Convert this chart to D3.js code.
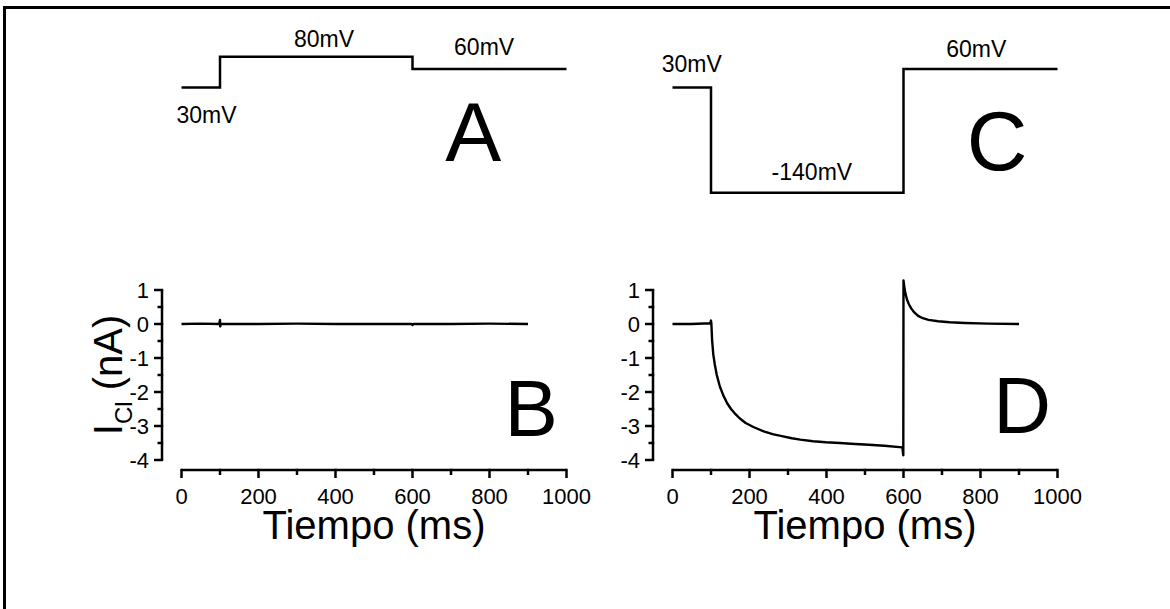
<!DOCTYPE html>
<html>
<head>
<meta charset="utf-8">
<script src="https://cdn.jsdelivr.net/npm/d3@7"></script>
<style>
  body { margin: 0; background: #fff; }
  svg { display: block; font-family: "Liberation Sans", Arial, sans-serif; }
</style>
</head>
<body>
<div id="chart"></div>
<script>
// voltage protocols (ms, mV)
var protoA = [[0, 30], [100, 30], [100, 80], [600, 80], [600, 60], [1000, 60]];
var protoC = [[0, 30], [100, 30], [100, -140], [600, -140], [600, 60], [1000, 60]];
// label text, centre (ms), baseline (mV)
var protoLabelsA = [["30mV", 65, -27], ["80mV", 370, 96], ["60mV", 786, 83]];
var protoLabelsC = [["30mV", 50, 56], ["-140mV", 362, -119], ["60mV", 789, 79]];

// chloride current traces (ms, nA)
var traceB = [[0, 0], [50, 0.01], [98, 0], [100, 0.12], [100.5, -0.07], [102, 0],
  [200, 0], [300, 0.01], [400, 0], [500, 0], [598, 0], [600, -0.03], [602, 0],
  [700, 0], [800, 0.01], [900, 0]];
var traceD = [[0, 0], [50, 0], [98, 0.02], [100, 0.1], [101, 0], [103, -0.5],
  [106, -0.9], [110, -1.2], [115, -1.5], [123, -1.84], [132, -2.1], [142, -2.33],
  [152, -2.5], [161, -2.62], [175, -2.78], [190, -2.91], [210, -3.03], [237, -3.16],
  [260, -3.24], [284, -3.3], [310, -3.36], [332, -3.4], [365, -3.45], [398, -3.48],
  [435, -3.5], [474, -3.53], [510, -3.55], [550, -3.58], [597, -3.63], [599.5, -3.86],
  [600, 1.28], [602, 1.1], [605, 0.9], [609, 0.72], [614, 0.58], [620, 0.46],
  [628, 0.34], [638, 0.24], [650, 0.17], [665, 0.12], [690, 0.08], [720, 0.05],
  [760, 0.03], [820, 0.01], [900, 0]];

var xTicks = [0, 200, 400, 600, 800, 1000];
var xMinor = [100, 300, 500, 700, 900];
var yTicks = [1, 0, -1, -2, -3, -4];
var yMinor = [0.5, -0.5, -1.5, -2.5, -3.5];

var width = 1170, height = 609;
var svg = d3.select("#chart").append("svg")
  .attr("width", width)
  .attr("height", height);

// outer frame (only top and left edges are visible)
svg.append("path")
  .attr("d", "M4.5," + height + "V7.5H" + width)
  .attr("fill", "none")
  .attr("stroke", "#000")
  .attr("stroke-width", 3);

var yV = d3.scaleLinear().domain([-140, 80]).range([192.7, 56.7]);
var yI = d3.scaleLinear().domain([-4, 1]).range([460, 290]);

var panels = [
  {x0: 181.5, yAxisX: 162, proto: protoA, plabels: protoLabelsA, trace: traceB, top: "A", bottom: "B",
   topPos: [758, 161], botPos: [908, 436]},
  {x0: 672.5, yAxisX: 653, proto: protoC, plabels: protoLabelsC, trace: traceD, top: "C", bottom: "D",
   topPos: [843, 170], botPos: [908, 433]}
];

var line = d3.line();

panels.forEach(function(p) {
  var x = d3.scaleLinear().domain([0, 1000]).range([p.x0, p.x0 + 385]);

  // voltage step protocol
  svg.append("path")
    .attr("d", line(p.proto.map(function(d) { return [x(d[0]), yV(d[1])]; })))
    .attr("fill", "none")
    .attr("stroke", "#000")
    .attr("stroke-width", 2.5);

  svg.selectAll(null)
    .data(p.plabels).enter()
    .append("text")
    .attr("x", function(d) { return x(d[1]); })
    .attr("y", function(d) { return yV(d[2]); })
    .attr("text-anchor", "middle")
    .style("font-size", "23px")
    .text(function(d) { return d[0]; });

  svg.append("text")
    .attr("x", x(p.topPos[0]))
    .attr("y", p.topPos[1])
    .attr("text-anchor", "middle")
    .style("font-size", "84px")
    .text(p.top);

  // x axis
  var gx = svg.append("g").attr("transform", "translate(0,470)");
  gx.append("line")
    .attr("x1", x(0)).attr("x2", x(1000))
    .attr("stroke", "#000").attr("stroke-width", 2.5);
  gx.selectAll(".maj").data(xTicks).enter().append("line")
    .attr("x1", x).attr("x2", x)
    .attr("y1", -1.2).attr("y2", 8)
    .attr("stroke", "#000").attr("stroke-width", 2.5);
  gx.selectAll(".min").data(xMinor).enter().append("line")
    .attr("x1", x).attr("x2", x)
    .attr("y1", -1.2).attr("y2", 5)
    .attr("stroke", "#000").attr("stroke-width", 2.5);
  gx.selectAll("text").data(xTicks).enter().append("text")
    .attr("x", x)
    .attr("y", 34)
    .attr("text-anchor", "middle")
    .style("font-size", "22px")
    .text(function(d) { return d; });

  svg.append("text")
    .attr("x", x(500))
    .attr("y", 539)
    .attr("text-anchor", "middle")
    .style("font-size", "40px")
    .text("Tiempo (ms)");

  // y axis
  var gy = svg.append("g").attr("transform", "translate(" + p.yAxisX + ",0)");
  gy.append("line")
    .attr("y1", yI(1)).attr("y2", yI(-4))
    .attr("stroke", "#000").attr("stroke-width", 2.5);
  gy.selectAll(".maj").data(yTicks).enter().append("line")
    .attr("y1", yI).attr("y2", yI)
    .attr("x1", -8).attr("x2", 1.2)
    .attr("stroke", "#000").attr("stroke-width", 2.5);
  gy.selectAll(".min").data(yMinor).enter().append("line")
    .attr("y1", yI).attr("y2", yI)
    .attr("x1", -4.5).attr("x2", 1.2)
    .attr("stroke", "#000").attr("stroke-width", 2.5);
  gy.selectAll("text").data(yTicks).enter().append("text")
    .attr("x", -13)
    .attr("y", function(d) { return yI(d) + 8; })
    .attr("text-anchor", "end")
    .style("font-size", "22px")
    .text(function(d) { return d; });

  // current trace
  svg.append("path")
    .attr("d", line(p.trace.map(function(d) { return [x(d[0]), yI(d[1])]; })))
    .attr("fill", "none")
    .attr("stroke", "#000")
    .attr("stroke-width", 2.4)
    .attr("stroke-linejoin", "round");

  svg.append("text")
    .attr("x", x(p.botPos[0]))
    .attr("y", p.botPos[1])
    .attr("text-anchor", "middle")
    .style("font-size", "80px")
    .text(p.bottom);
});

// y title, left panel only
var yt = svg.append("text")
  .attr("transform", "translate(122,375) rotate(-90)")
  .attr("text-anchor", "middle")
  .style("font-size", "40px");
yt.append("tspan").text("I");
yt.append("tspan").attr("dy", 10).style("font-size", "24px").text("Cl");
yt.append("tspan").attr("dy", -10).text(" (nA)");
</script>
</body>
</html>
